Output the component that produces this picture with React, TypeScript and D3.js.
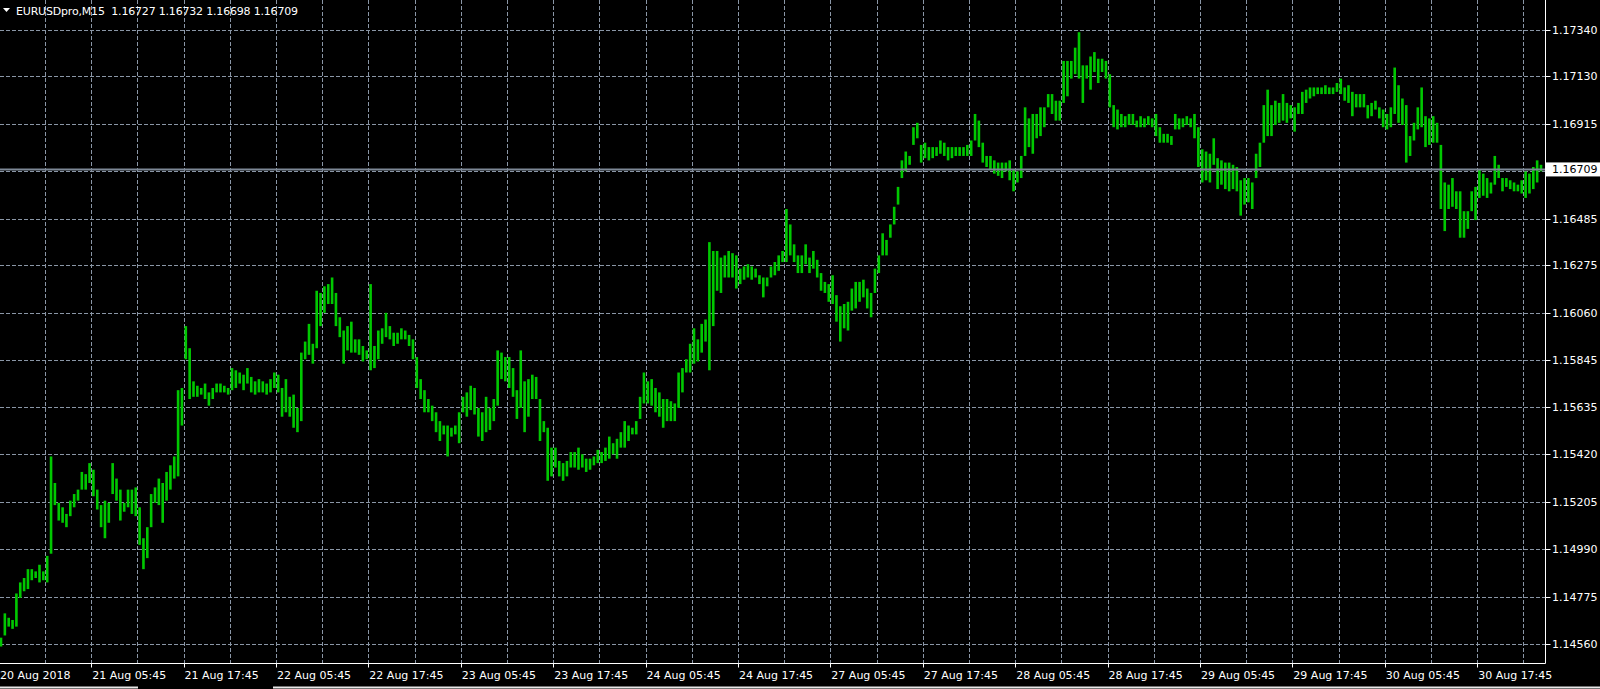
import React, { useRef, useEffect } from "react";
import * as d3 from "d3";

// EURUSD M15, one entry per two bars (30 min)
const highs = [
  1.1459, 1.1470, 1.1468, 1.1467, 1.1479, 1.1484, 1.1486, 1.1490, 1.1490, 1.1489,
  1.1492, 1.1489, 1.1496, 1.1541, 1.1529, 1.1520, 1.1518, 1.1515, 1.1521, 1.1524,
  1.1526, 1.1534, 1.1533, 1.1538, 1.1535, 1.1526, 1.1519, 1.1521, 1.1520, 1.1538,
  1.1531, 1.1526, 1.1520, 1.1526, 1.1526, 1.1527, 1.1518, 1.1504, 1.1509, 1.1524,
  1.1527, 1.1531, 1.1529, 1.1534, 1.1537, 1.1541, 1.1571, 1.1572, 1.1600, 1.1590,
  1.1575, 1.1573, 1.1572, 1.1574, 1.1570, 1.1572, 1.1574, 1.1574, 1.1573, 1.1572,
  1.1581, 1.1580, 1.1579, 1.1578, 1.1581, 1.1577, 1.1575, 1.1576, 1.1575, 1.1574,
  1.1576, 1.1579, 1.1578, 1.1572, 1.1576, 1.1568, 1.1569, 1.1563, 1.1588, 1.1593,
  1.1601, 1.1592, 1.1616, 1.1615, 1.1618, 1.1619, 1.1622, 1.1615, 1.1604, 1.1598,
  1.1600, 1.1602, 1.1594, 1.1594, 1.1591, 1.1589, 1.1619, 1.1591, 1.1598, 1.1599,
  1.1606, 1.1600, 1.1597, 1.1597, 1.1599, 1.1598, 1.1596, 1.1594, 1.1586, 1.1576,
  1.1571, 1.1567, 1.1564, 1.1561, 1.1557, 1.1555, 1.1555, 1.1554, 1.1555, 1.1561,
  1.1568, 1.1570, 1.1573, 1.1572, 1.1563, 1.1561, 1.1568, 1.1563, 1.1567, 1.1589,
  1.1588, 1.1586, 1.1586, 1.1581, 1.1571, 1.1589, 1.1575, 1.1576, 1.1578, 1.1577,
  1.1567, 1.1557, 1.1554, 1.1545, 1.1545, 1.1539, 1.1538, 1.1539, 1.1543, 1.1543,
  1.1545, 1.1542, 1.1540, 1.1540, 1.1541, 1.1544, 1.1543, 1.1545, 1.1550, 1.1547,
  1.1549, 1.1552, 1.1557, 1.1555, 1.1554, 1.1557, 1.1568, 1.1579, 1.1575, 1.1576,
  1.1572, 1.1570, 1.1567, 1.1567, 1.1566, 1.1565, 1.1579, 1.1581, 1.1585, 1.1592,
  1.1599, 1.1594, 1.1601, 1.1603, 1.1638, 1.1634, 1.1634, 1.1631, 1.1632, 1.1634,
  1.1633, 1.1632, 1.1626, 1.1627, 1.1628, 1.1627, 1.1626, 1.1623, 1.1622, 1.1622,
  1.1627, 1.1629, 1.1632, 1.1634, 1.1653, 1.1646, 1.1637, 1.1632, 1.1632, 1.1637,
  1.1631, 1.1634, 1.1630, 1.1624, 1.1620, 1.1619, 1.1623, 1.1614, 1.1609, 1.1610,
  1.1611, 1.1617, 1.1620, 1.1620, 1.1621, 1.1617, 1.1615, 1.1626, 1.1632, 1.1642,
  1.1639, 1.1646, 1.1654, 1.1663, 1.1675, 1.1679, 1.1677, 1.1690, 1.1692, 1.1682,
  1.1683, 1.1681, 1.1681, 1.1681, 1.1684, 1.1683, 1.1681, 1.1681, 1.1681, 1.1681,
  1.1681, 1.1682, 1.1684, 1.1696, 1.1693, 1.1683, 1.1677, 1.1677, 1.1675, 1.1674,
  1.1674, 1.1674, 1.1675, 1.1671, 1.1670, 1.1677, 1.1699, 1.1694, 1.1696, 1.1696,
  1.1699, 1.1699, 1.1705, 1.1705, 1.1702, 1.1702, 1.1720, 1.1720, 1.1720, 1.1726,
  1.1733, 1.1718, 1.1718, 1.1722, 1.1724, 1.1721, 1.1721, 1.1720, 1.1714, 1.1700,
  1.1698, 1.1696, 1.1695, 1.1696, 1.1696, 1.1693, 1.1695, 1.1694, 1.1695, 1.1694,
  1.1696, 1.1690, 1.1687, 1.1687, 1.1686, 1.1696, 1.1694, 1.1694, 1.1695, 1.1694,
  1.1696, 1.1690, 1.1680, 1.1679, 1.1678, 1.1685, 1.1676, 1.1675, 1.1674, 1.1674,
  1.1673, 1.1672, 1.1666, 1.1667, 1.1667, 1.1665, 1.1678, 1.1683, 1.1700, 1.1707,
  1.1700, 1.1702, 1.1701, 1.1705, 1.1701, 1.1700, 1.1699, 1.1701, 1.1706, 1.1707,
  1.1708, 1.1708, 1.1708, 1.1708, 1.1709, 1.1708, 1.1708, 1.1710, 1.1712, 1.1708,
  1.1709, 1.1706, 1.1705, 1.1705, 1.1705, 1.1700, 1.1701, 1.1702, 1.1699, 1.1698,
  1.1696, 1.1699, 1.1717, 1.1709, 1.1703, 1.1700, 1.1686, 1.1692, 1.1699, 1.1708,
  1.1695, 1.1694, 1.1695, 1.1692, 1.1682, 1.1665, 1.1664, 1.1667, 1.1661, 1.1661,
  1.1652, 1.1652, 1.1661, 1.1663, 1.1671, 1.1669, 1.1667, 1.1665, 1.1677, 1.1673,
  1.1667, 1.1667, 1.1666, 1.1665, 1.1664, 1.1666, 1.1670, 1.1669, 1.1672, 1.1675,
  1.1673,
];

const lows = [
  1.1455, 1.1460, 1.1464, 1.1463, 1.1464, 1.1477, 1.1480, 1.1481, 1.1485, 1.1486,
  1.1484, 1.1485, 1.1484, 1.1497, 1.1519, 1.1512, 1.1511, 1.1509, 1.1514, 1.1518,
  1.1521, 1.1526, 1.1526, 1.1529, 1.1523, 1.1517, 1.1509, 1.1504, 1.1511, 1.1524,
  1.1521, 1.1512, 1.1516, 1.1518, 1.1515, 1.1514, 1.1501, 1.1490, 1.1495, 1.1509,
  1.1520, 1.1519, 1.1511, 1.1521, 1.1526, 1.1531, 1.1532, 1.1555, 1.1585, 1.1567,
  1.1568, 1.1568, 1.1569, 1.1567, 1.1564, 1.1567, 1.1570, 1.1570, 1.1570, 1.1569,
  1.1571, 1.1572, 1.1574, 1.1571, 1.1574, 1.1570, 1.1569, 1.1570, 1.1570, 1.1569,
  1.1570, 1.1572, 1.1570, 1.1559, 1.1561, 1.1559, 1.1554, 1.1552, 1.1557, 1.1585,
  1.1587, 1.1583, 1.1590, 1.1600, 1.1606, 1.1610, 1.1610, 1.1600, 1.1595, 1.1583,
  1.1589, 1.1588, 1.1588, 1.1587, 1.1584, 1.1585, 1.1580, 1.1581, 1.1585, 1.1592,
  1.1595, 1.1594, 1.1591, 1.1592, 1.1594, 1.1594, 1.1591, 1.1585, 1.1572, 1.1567,
  1.1561, 1.1561, 1.1557, 1.1552, 1.1548, 1.1551, 1.1541, 1.1550, 1.1551, 1.1547,
  1.1561, 1.1559, 1.1562, 1.1560, 1.1550, 1.1548, 1.1552, 1.1553, 1.1557, 1.1564,
  1.1576, 1.1575, 1.1572, 1.1568, 1.1558, 1.1563, 1.1552, 1.1559, 1.1567, 1.1567,
  1.1548, 1.1552, 1.1530, 1.1532, 1.1536, 1.1532, 1.1530, 1.1532, 1.1536, 1.1536,
  1.1535, 1.1536, 1.1534, 1.1535, 1.1537, 1.1538, 1.1538, 1.1539, 1.1540, 1.1542,
  1.1540, 1.1545, 1.1545, 1.1548, 1.1551, 1.1551, 1.1558, 1.1565, 1.1565, 1.1564,
  1.1561, 1.1559, 1.1554, 1.1557, 1.1557, 1.1557, 1.1563, 1.1570, 1.1579, 1.1579,
  1.1583, 1.1584, 1.1588, 1.1593, 1.1580, 1.1600, 1.1616, 1.1615, 1.1622, 1.1622,
  1.1622, 1.1617, 1.1619, 1.1621, 1.1622, 1.1621, 1.1622, 1.1619, 1.1613, 1.1618,
  1.1622, 1.1623, 1.1625, 1.1629, 1.1629, 1.1632, 1.1629, 1.1624, 1.1624, 1.1628,
  1.1624, 1.1626, 1.1622, 1.1616, 1.1615, 1.1611, 1.1610, 1.1602, 1.1593, 1.1599,
  1.1598, 1.1607, 1.1608, 1.1611, 1.1613, 1.1608, 1.1604, 1.1615, 1.1624, 1.1632,
  1.1632, 1.1640, 1.1646, 1.1655, 1.1667, 1.1670, 1.1673, 1.1682, 1.1685, 1.1674,
  1.1676, 1.1675, 1.1676, 1.1677, 1.1678, 1.1677, 1.1675, 1.1676, 1.1677, 1.1677,
  1.1677, 1.1677, 1.1677, 1.1684, 1.1681, 1.1674, 1.1672, 1.1671, 1.1669, 1.1668,
  1.1667, 1.1670, 1.1666, 1.1661, 1.1665, 1.1667, 1.1677, 1.1681, 1.1678, 1.1685,
  1.1686, 1.1690, 1.1699, 1.1696, 1.1693, 1.1693, 1.1701, 1.1704, 1.1712, 1.1714,
  1.1712, 1.1701, 1.1712, 1.1707, 1.1715, 1.1710, 1.1715, 1.1712, 1.1699, 1.1690,
  1.1689, 1.1690, 1.1690, 1.1691, 1.1691, 1.1690, 1.1690, 1.1690, 1.1691, 1.1690,
  1.1686, 1.1683, 1.1683, 1.1683, 1.1682, 1.1689, 1.1689, 1.1690, 1.1691, 1.1690,
  1.1685, 1.1672, 1.1665, 1.1666, 1.1665, 1.1673, 1.1662, 1.1664, 1.1662, 1.1661,
  1.1662, 1.1661, 1.1650, 1.1655, 1.1656, 1.1653, 1.1667, 1.1672, 1.1683, 1.1686,
  1.1686, 1.1691, 1.1692, 1.1693, 1.1692, 1.1694, 1.1688, 1.1696, 1.1696, 1.1701,
  1.1703, 1.1704, 1.1705, 1.1705, 1.1705, 1.1705, 1.1705, 1.1706, 1.1705, 1.1702,
  1.1701, 1.1695, 1.1699, 1.1699, 1.1699, 1.1694, 1.1695, 1.1698, 1.1694, 1.1690,
  1.1689, 1.1690, 1.1696, 1.1692, 1.1691, 1.1674, 1.1677, 1.1684, 1.1689, 1.1690,
  1.1681, 1.1682, 1.1683, 1.1683, 1.1653, 1.1643, 1.1653, 1.1654, 1.1653, 1.1640,
  1.1640, 1.1644, 1.1652, 1.1648, 1.1658, 1.1659, 1.1658, 1.1660, 1.1664, 1.1667,
  1.1661, 1.1663, 1.1662, 1.1661, 1.1661, 1.1660, 1.1658, 1.1660, 1.1662, 1.1665,
  1.1670,
];

const priceTicks = [
  "1.17340", "1.17130", "1.16915", "1.16485", "1.16275", "1.16060", "1.15845",
  "1.15635", "1.15420", "1.15205", "1.14990", "1.14775", "1.14560",
];
const hiddenGridPrice = 1.167; // grid line under the bid label

const dateLabels = [
  "20 Aug 2018", "21 Aug 05:45", "21 Aug 17:45", "22 Aug 05:45", "22 Aug 17:45",
  "23 Aug 05:45", "23 Aug 17:45", "24 Aug 05:45", "24 Aug 17:45", "27 Aug 05:45",
  "27 Aug 17:45", "28 Aug 05:45", "28 Aug 17:45", "29 Aug 05:45", "29 Aug 17:45",
  "30 Aug 05:45", "30 Aug 17:45",
];

const symbolName = "EURUSDpro,M15";
const lastOHLC = ["1.16727", "1.16732", "1.16698", "1.16709"];
const bid = 1.16709;

const W = 1600;
const H = 689;
const plotRight = 1545.5;
const plotBottom = 663.5;
const gridStep = 12; // entries per vertical grid cell
const gridOffset = -0.58;
const gridColor = "#8a96a6";
const barColor = "#00c800";
const font = "'DejaVu Sans', Tahoma, sans-serif";

const App: React.FC = () => {
  const svgRef = useRef<SVGSVGElement | null>(null);

  useEffect(() => {
    const svg = d3.select(svgRef.current);
    svg.selectAll("*").remove();

    const x = d3.scaleLinear().domain([0, highs.length - 1]).range([1, 1541]);
    const y = d3.scaleLinear().domain([1.1456, 1.1734]).range([644.3, 30]);
    const snap = (v: number) => Math.round(v) + 0.5;

    svg.append("rect").attr("width", W).attr("height", H).attr("fill", "#000");

    svg.append("defs").append("clipPath").attr("id", "plot")
      .append("rect").attr("x", 0).attr("y", 0)
      .attr("width", plotRight).attr("height", plotBottom);

    const plot = svg.append("g").attr("clip-path", "url(#plot)");

    // grid
    const nGrid = Math.floor((highs.length - gridOffset) / gridStep) + 1;
    const gridXs = d3.range(0, nGrid).map((k) => x(k * gridStep + gridOffset));
    plot.append("g").selectAll("line").data(gridXs).join("line")
      .attr("x1", (d) => snap(d)).attr("x2", (d) => snap(d))
      .attr("y1", 0).attr("y2", plotBottom)
      .attr("stroke", gridColor).attr("stroke-dasharray", "4,2");

    const gridYs = priceTicks.map((t) => +t).concat([hiddenGridPrice]);
    plot.append("g").selectAll("line").data(gridYs).join("line")
      .attr("x1", 0).attr("x2", plotRight)
      .attr("y1", (d) => snap(y(d))).attr("y2", (d) => snap(y(d)))
      .attr("stroke", gridColor).attr("stroke-dasharray", "4,2");

    // bars
    plot.append("g")
      .selectAll("rect").data(highs).join("rect")
      .attr("x", (_, i) => x(i) - 1.3)
      .attr("width", 2.6)
      .attr("y", (d) => y(d))
      .attr("height", (d, i) => Math.max(1, y(lows[i]) - y(d)))
      .attr("fill", barColor);

    // bid line
    plot.append("line")
      .attr("x1", 0).attr("x2", plotRight)
      .attr("y1", snap(y(bid))).attr("y2", snap(y(bid)))
      .attr("stroke", "#7d8896").attr("stroke-width", 2);

    // frame
    svg.append("path")
      .attr("d", `M${plotRight},0V${plotBottom}H0`)
      .attr("fill", "none").attr("stroke", "#fff");

    // price axis
    const pa = svg.append("g");
    priceTicks.forEach((t) => {
      const yy = snap(y(+t));
      pa.append("line").attr("x1", plotRight).attr("x2", plotRight + 5)
        .attr("y1", yy).attr("y2", yy).attr("stroke", "#fff");
      pa.append("text").attr("x", 1552).attr("y", yy).attr("dy", "0.36em")
        .attr("fill", "#fff").style("font", `11px ${font}`).text(t);
    });
    const by = y(bid);
    pa.append("rect").attr("x", 1546).attr("y", by - 7).attr("width", 54).attr("height", 14)
      .attr("fill", "#fff");
    pa.append("text").attr("x", 1552).attr("y", by).attr("dy", "0.36em")
      .attr("fill", "#000").style("font", `11px ${font}`).text(bid.toFixed(5));

    // time axis
    const ta = svg.append("g");
    dateLabels.forEach((lbl, j) => {
      const tx = x(j * 2 * gridStep + gridOffset);
      if (j > 0) {
        ta.append("line").attr("x1", snap(tx)).attr("x2", snap(tx))
          .attr("y1", plotBottom).attr("y2", plotBottom + 4).attr("stroke", "#fff");
      }
      ta.append("text").attr("x", Math.max(0, tx + 1)).attr("y", 679)
        .attr("fill", "#fff").style("font", `11px ${font}`).text(lbl);
    });

    // bottom tab strip edge
    svg.append("path").attr("d", "M0,687.5H138M273,687.5H1600")
      .attr("stroke", "#e8e8e8").attr("stroke-width", 2);

    // header
    svg.append("path").attr("d", "M3,8L10,8L6.5,12Z").attr("fill", "#fff");
    svg.append("text").attr("x", 16).attr("y", 15)
      .attr("fill", "#fff").style("font", `11px ${font}`)
      .attr("textLength", 282).attr("lengthAdjust", "spacing")
      .attr("xml:space", "preserve")
      .text(`${symbolName}  ${lastOHLC.join(" ")}`);
  }, []);

  return (
    <svg
      ref={svgRef}
      width={W}
      height={H}
      style={{ position: "absolute", left: 0, top: 0, display: "block" }}
    />
  );
};

export default App;
